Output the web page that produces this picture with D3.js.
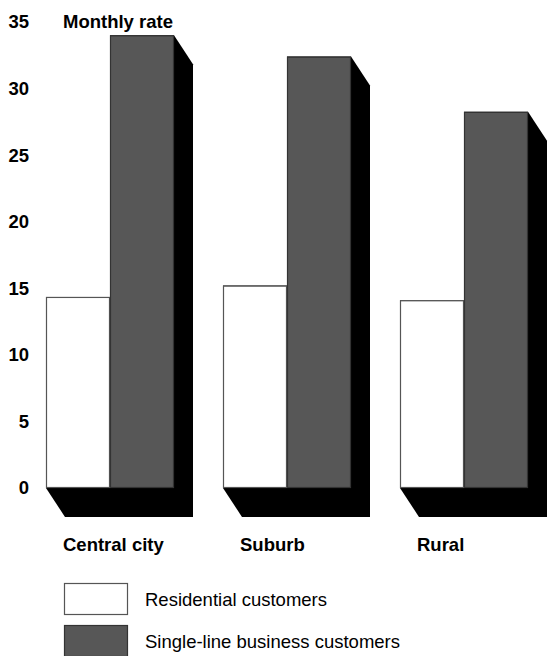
<!DOCTYPE html>
<html>
<head>
<meta charset="utf-8">
<script src="https://cdn.jsdelivr.net/npm/d3@7"></script>
<style>
  html, body { margin: 0; padding: 0; background: #fff; }
  svg { display: block; font-family: "Liberation Sans", Arial, Helvetica, sans-serif; }
</style>
</head>
<body>
<svg id="chart" width="551" height="656"></svg>
<script>
// Monthly telephone rates by area and customer type
const categories = ["Central city", "Suburb", "Rural"];
const seriesNames = ["Residential customers", "Single-line business customers"];
const residential = [14.35, 15.2, 14.1];
const business = [34.0, 32.4, 28.25];
const yTicks = [0, 5, 10, 15, 20, 25, 30, 35];
const yTitle = "Monthly rate";

const seriesColors = ["#ffffff", "#575757"];
const seriesStroke = ["#555555", "#333333"];
const depth = { dx: 19, dy: 29 };
const fontSize = 18.5;

const svg = d3.select("#chart");

const x = d3.scaleBand()
  .domain(categories)
  .range([46, 528])
  .paddingInner(49 / 177)
  .paddingOuter(0);

const xInner = d3.scaleBand()
  .domain(seriesNames)
  .range([0, x.bandwidth()])
  .padding(0);

const y = d3.scaleLinear().domain([0, 35]).range([488, 22]);

const rows = categories.map((c, i) => ({
  category: c,
  values: [residential[i], business[i]]
}));

// Extruded black depth behind each bar
const shadows = svg.append("g").attr("class", "depth");
rows.forEach(row => {
  row.values.forEach((v, j) => {
    const x0 = x(row.category) + xInner(seriesNames[j]);
    const x1 = x0 + xInner.bandwidth();
    const yt = y(v), y0 = y(0);
    const pts = [
      [x0, yt], [x1, yt], [x1 + depth.dx, yt + depth.dy],
      [x1 + depth.dx, y0 + depth.dy], [x0 + depth.dx, y0 + depth.dy], [x0, y0]
    ];
    shadows.append("polygon")
      .attr("points", pts.map(p => p.join(",")).join(" "))
      .attr("fill", "#000");
  });
});

// Bar faces
const groups = svg.append("g").selectAll("g")
  .data(rows).join("g")
  .attr("transform", d => `translate(${x(d.category)},0)`);

groups.selectAll("rect")
  .data(d => d.values.map((v, j) => ({ v, j })))
  .join("rect")
  .attr("x", d => xInner(seriesNames[d.j]) + 0.5)
  .attr("y", d => y(d.v) + 0.5)
  .attr("width", xInner.bandwidth() - 1)
  .attr("height", d => y(0) - y(d.v) - 1)
  .attr("fill", d => seriesColors[d.j])
  .attr("stroke", d => seriesStroke[d.j])
  .attr("stroke-width", 1.2);

// Y axis labels only
const yAxis = svg.append("g")
  .attr("transform", "translate(29,0)")
  .call(d3.axisLeft(y).tickValues(yTicks).tickSize(0).tickPadding(0));
yAxis.select(".domain").remove();
yAxis.selectAll("text")
  .attr("font-family", "Liberation Sans, Arial, sans-serif")
  .attr("font-size", fontSize)
  .attr("font-weight", "bold")
  .attr("fill", "#000");

svg.append("text")
  .attr("x", 63)
  .attr("y", y(35))
  .attr("dy", "0.35em")
  .attr("font-size", fontSize)
  .attr("font-weight", "bold")
  .text(yTitle);

// Category labels
svg.append("g").selectAll("text")
  .data(categories).join("text")
  .attr("x", d => x(d) + 17)
  .attr("y", 551)
  .attr("font-size", fontSize)
  .attr("font-weight", "bold")
  .text(d => d);

// Legend
const legend = svg.append("g").selectAll("g")
  .data(seriesNames).join("g")
  .attr("transform", (d, i) => `translate(64,${583 + i * 42})`);
legend.append("rect")
  .attr("x", 0.5).attr("y", 0.5)
  .attr("width", 63).attr("height", 31)
  .attr("fill", (d, i) => seriesColors[i])
  .attr("stroke", (d, i) => seriesStroke[i])
  .attr("stroke-width", 1.2);
legend.append("text")
  .attr("x", 81)
  .attr("y", 17)
  .attr("dy", "0.35em")
  .attr("font-size", fontSize)
  .text(d => d);
</script>
</body>
</html>
